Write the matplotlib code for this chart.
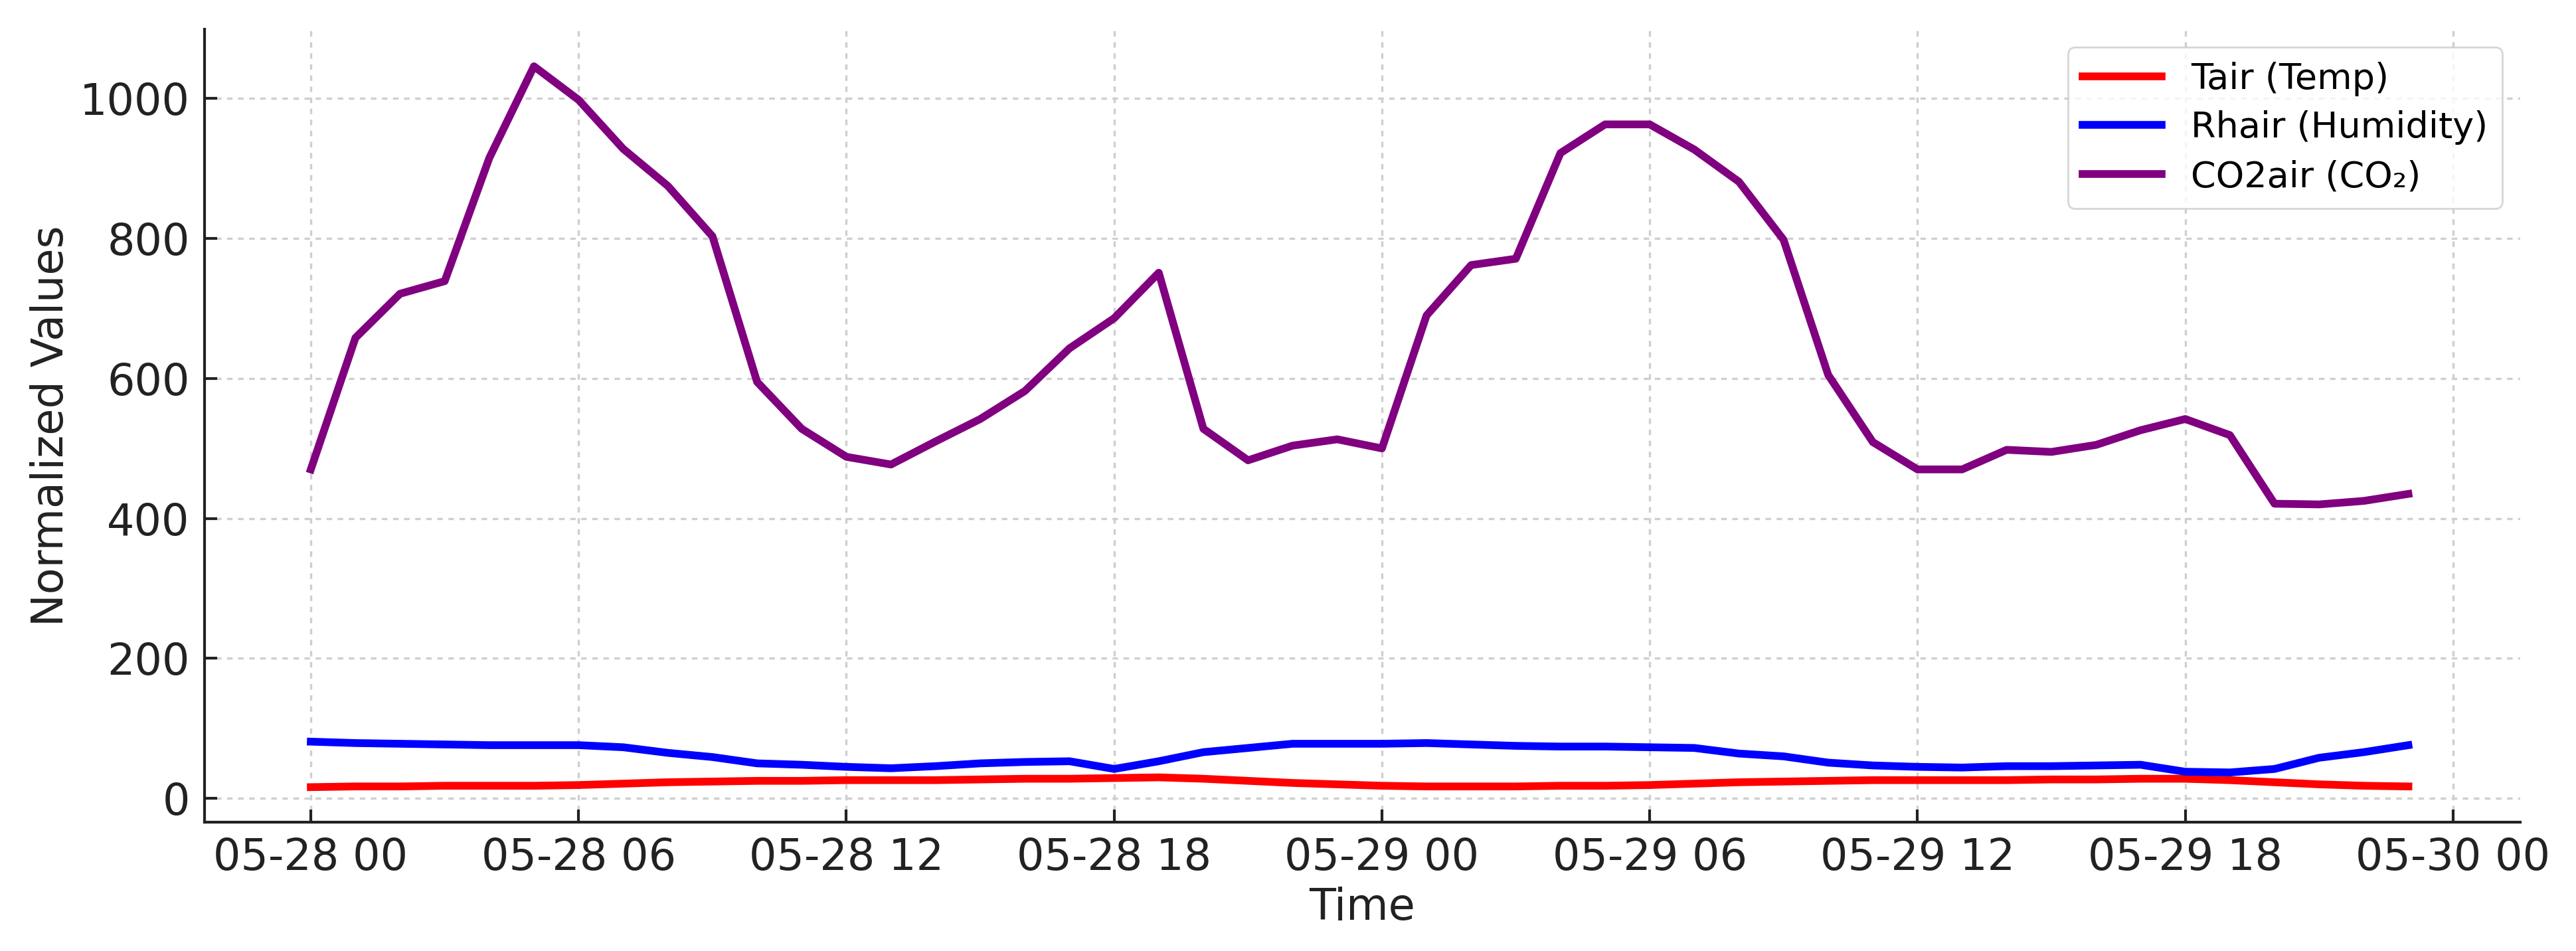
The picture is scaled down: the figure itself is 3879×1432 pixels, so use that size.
import pandas as pd
import matplotlib
matplotlib.use('Agg')
import matplotlib.pyplot as plt
import matplotlib.dates as mdates

# hourly readings, 05-28 00:00 .. 05-29 23:00
times = pd.date_range('2024-05-28 00:00', periods=48, freq='h')

tair = [16, 17, 17, 18, 18, 18, 19, 21, 23, 24, 25, 25,
        26, 26, 26, 27, 28, 28, 29, 30, 28, 25, 22, 20,
        18, 17, 17, 17, 18, 18, 19, 21, 23, 24, 25, 26,
        26, 26, 26, 27, 27, 28, 28, 26, 23, 20, 18, 17]

rhair = [81, 79, 78, 77, 76, 76, 76, 73, 65, 59, 50, 48,
         45, 43, 46, 50, 52, 53, 42, 53, 66, 72, 78, 78,
         78, 79, 77, 75, 74, 74, 73, 72, 64, 60, 51, 47,
         45, 44, 46, 46, 47, 48, 38, 37, 42, 58, 66, 76]

co2air = [470, 658, 721, 739, 915, 1046, 998, 928, 875, 803, 595, 528,
          488, 477, 510, 542, 582, 643, 686, 751, 528, 483, 504, 513,
          500, 690, 762, 771, 922, 963, 963, 927, 881, 798, 605, 509,
          470, 470, 498, 495, 505, 526, 542, 519, 421, 420, 425, 435]

fig = plt.figure(figsize=(19.4, 7.16), dpi=200)
ax = fig.add_axes([0.0794, 0.1355, 0.8986, 0.8338])

ax.plot(times, tair, color='red', lw=4.2, label='Tair (Temp)')
ax.plot(times, rhair, color='blue', lw=4.2, label='Rhair (Humidity)')
ax.plot(times, co2air, color='purple', lw=4.2, label='CO2air (CO₂)')

ax.xaxis.set_major_locator(mdates.HourLocator(byhour=[0, 6, 12, 18]))
ax.xaxis.set_major_formatter(mdates.DateFormatter('%m-%d %H'))
ax.set_yticks([0, 200, 400, 600, 800, 1000])
ax.set_xlim(times[0] - pd.Timedelta(hours=2.38), times[-1] + pd.Timedelta(hours=2.5))
ax.set_ylim(-34, 1099)

ax.grid(True, linestyle=(0, (2.5, 2.5)), color='#cfcfcf', lw=1.2)
ax.spines['top'].set_visible(False)
ax.spines['right'].set_visible(False)
for s in ['left', 'bottom']:
    ax.spines[s].set_linewidth(1.5)
    ax.spines[s].set_color('#222222')
ax.tick_params(direction='in', length=7, width=1.5, labelsize=23.5, pad=8,
               colors='#222222')

ax.set_xlabel('Time', fontsize=23.5, color='#222222', labelpad=4)
ax.set_ylabel('Normalized Values', fontsize=23.5, color='#222222')

leg = ax.legend(loc='upper right', fontsize=19.5, frameon=True,
                handlelength=2.2, labelspacing=0.4)
leg.get_frame().set_edgecolor('#cccccc')

fig.savefig('out.png', dpi=200)
